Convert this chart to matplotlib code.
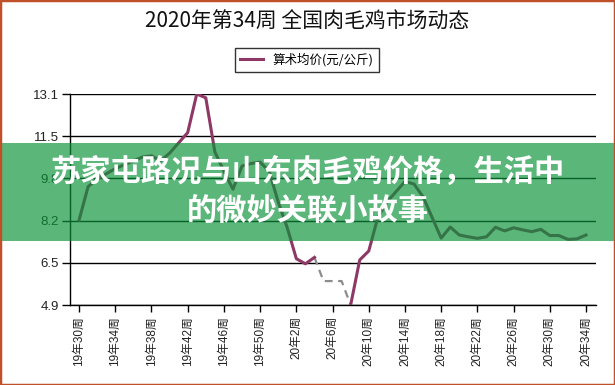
import numpy as np
import matplotlib
matplotlib.use('Agg')
import matplotlib.pyplot as plt
from matplotlib.patches import Rectangle

plt.rcParams['font.family'] = ['Liberation Sans', 'Noto Sans CJK SC', 'DejaVu Sans']

title = '2020年第34周 全国肉毛鸡市场动态'
series_name = '算术均价(元/公斤)'
banner_text = '苏家屯路况与山东肉毛鸡价格，生活中\n的微妙关联小故事'

# 19年30周 .. 20年34周, one value per week
price = [8.2, 9.5, 9.8, 10.0, 10.2, 10.35, 10.5, 10.65, 10.7, 10.5,
         10.8, 11.2, 11.6, 13.1, 12.95, 10.85, 10.1, 9.4, 10.3, 10.4,
         10.45, 10.1, 8.9, 7.9, 6.7, 6.5, 6.75, np.nan, np.nan, np.nan,
         4.9, 6.65, 7.0, 8.3, 8.9, 9.3, 9.7, 9.6, 9.1, 8.3,
         7.5, 7.93, 7.62, 7.55, 7.49, 7.55, 7.92, 7.78, 7.9, 7.82,
         7.75, 7.84, 7.6, 7.6, 7.45, 7.47, 7.62]
gap_weeks = [26, 27, 28, 29, 30]
gap_price = [6.75, 5.83, 5.83, 5.83, 4.9]

tick_labels = ['19年30周', '19年34周', '19年38周', '19年42周', '19年46周',
               '19年50周', '20年2周', '20年6周', '20年10周', '20年14周',
               '20年18周', '20年22周', '20年26周', '20年30周', '20年34周']
y_ticks = [4.9, 6.5, 8.2, 9.8, 11.5, 13.1]

W, H = 615, 385
fig = plt.figure(figsize=(W / 100, H / 100), dpi=100)
fig.patch.set_facecolor('white')
fig.patches.append(Rectangle((0, 0), 1, 1, transform=fig.transFigure, fill=False,
                             edgecolor='#c0502a', linewidth=2.5, zorder=20))

ax = fig.add_axes([70 / W, 1 - 305 / H, (596 - 70) / W, (305 - 94) / H])
x = np.arange(len(price))
line, = ax.plot(x, price, color='#8e3866', linewidth=2.2, zorder=3)
ax.plot(gap_weeks, gap_price, color='#8c8c8c', linewidth=1.6, linestyle=(0, (3.5, 2.5)), zorder=2)

ax.set_xlim(-1.0, 57.1)
ax.set_ylim(4.9, 13.1)
ax.set_yticks(np.linspace(4.9, 13.1, 6))
ax.set_yticklabels(['%.1f' % v for v in y_ticks], fontsize=9.5, color='#222222')
ax.set_xticks(np.arange(0, len(price), 4))
ax.set_xticklabels(tick_labels, rotation=90, fontsize=8.5, color='#222222')
ax.tick_params(axis='x', length=5, width=1, color='black', pad=3)
ax.tick_params(axis='y', length=6, width=1, color='black', pad=2)
ax.grid(axis='y', color='black', linewidth=1)
for s in ['top', 'right']:
    ax.spines[s].set_visible(False)
for s in ['left', 'bottom']:
    ax.spines[s].set_color('black')
    ax.spines[s].set_linewidth(1)

fig.text(0.5, 1 - 22 / H, title, ha='center', va='center', fontsize=15, color='#111111',
         family=['Noto Sans CJK SC', 'DejaVu Sans'])

leg = fig.legend([line], [series_name], loc='center', bbox_to_anchor=(307 / W, 1 - 60 / H),
                 frameon=True, fancybox=False, fontsize=9, handlelength=1.8,
                 borderpad=0.45, prop={'family': ['Noto Sans CJK SC'], 'size': 9})
leg.get_frame().set_edgecolor('black')
leg.get_frame().set_linewidth(1)

fig.patches.append(Rectangle((0, 1 - 241 / H), 1, (241 - 143) / H, transform=fig.transFigure,
                             facecolor='#0a9239', alpha=0.67, edgecolor='none', zorder=10))
fig.text(0.5, 1 - 192 / H, banner_text, ha='center', va='center', fontsize=21.8,
         fontweight='bold', color='white', linespacing=1.3, zorder=11,
         family=['Noto Sans CJK SC'])

fig.savefig('out.png', dpi=100)
